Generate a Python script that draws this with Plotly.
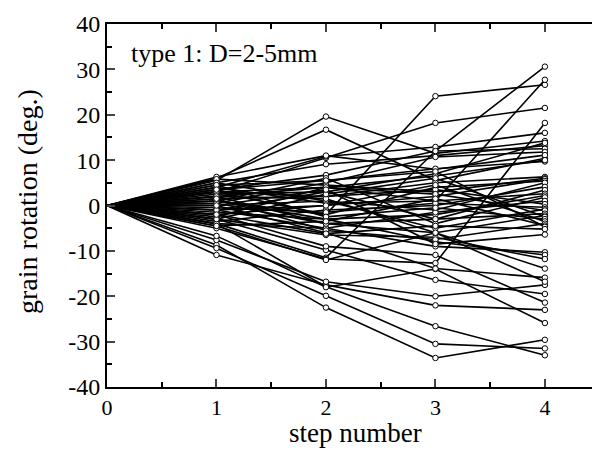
import plotly.graph_objects as go

steps = [0, 1, 2, 3, 4]

# grain rotation (deg.) of each grain at steps 1..4 (step 0 is 0 for all)
step1 = [-4, 1, 3, 5.5, 6, -5, 3, -8.7, -9.4, -4, -10.9, -7.6, -6.7, -3, -2, 0, -1, 1, -3, 2, -4.5,
         4, 5, 3.5, 0.5, 6.3, 4.5, -1, 2,
         1.5, 5.8, -2, 3, 0, -3.5, 2.5, 4, -1.5, 1, -4, 3, -0.5, 5, -2.5, 0.5, 2, -3, 4.5, -1, 1.5, -4.5, 3.5, -2, 0]
step2 = [-11.5, -2, 10.5, 19.6, 16.7, -11.8, 4, -22.5, -19.9, -17.9, -17.5, -16.8, -18, -9.8, -9, -6, -5, -3, -6.5, -4, -12,
         10.8, 9.1, 6.7, 5, 11, 5.5, 3, 4,
         2, 4.5, 0, -2, 1, -1, 3, 0.5, -3, 6, -5, 2, -1.5, 1, 4, -4, 1.5, 2.5, -2.5, 0, -5.5, -3.5, 5.5, -6.2, 3.5]
step3 = [12.0, 24.1, 18.2, 11.5, 5.5, -12.7, 1, -33.6, -30.5, -26.6, -22, -20, -14, -16.4, -10.9, -13.9, -9, -8, -7, -6, -6,
         12.9, 11, 12.0, 10.7, 8, 8.1, 7, 6.5,
         5, 3, 2, 4, -1, 0, -3, 1, -2, -4, -1.5, 3.5, 0.5, -5, 2.5, -3, -6, 6, -0.5, 4.5, -7.5, 1.5, 7.5, -4.5, -8.5]
step4 = [30.6, 26.6, 21.5, 14.2, 10.4, 18.2, 27.7, -29.6, -31.5, -33, -23, -17.5, -25.9, -19.5, -21.4, -15.9, -10.3, -10.9, -11.8, -13.9, -16.8,
         16.0, 13.2, 12.5, 11.8, 11.1, 9.7, 13.8, 10.0,
         6.3, 6.0, 5.8, 5.4, 5.0, 4.1, 3.4, 2.6, 2.2, 1.8, 1.0, 0.3, -0.4, -0.8, -1.1, -1.8, -2.2, -2.5, -3.0, -3.5, -4.0, -4.4, -4.7, -5.2, -6.4]

y_ticks = [-40, -30, -20, -10, 0, 10, 20, 30, 40]
y_tick_text = ["-40", "-30", "-20", "-10", "0", "10", "20", "30", "40"]
x_ticks = [0, 1, 2, 3, 4]

# build line and marker coordinates from the data
lx, ly, mx, my = [], [], [], []
for a, b, c, d in zip(step1, step2, step3, step4):
    vals = [0, a, b, c, d]
    lx += steps + [None]
    ly += vals + [None]
    mx += steps[1:]
    my += vals[1:]

fig = go.Figure()
fig.add_trace(go.Scatter(x=lx, y=ly, mode="lines", line=dict(color="black", width=1.6),
                         hoverinfo="skip", showlegend=False))
fig.add_trace(go.Scatter(x=mx, y=my, mode="markers",
                         marker=dict(symbol="circle", size=5.5, color="white",
                                     line=dict(color="black", width=1)),
                         showlegend=False, cliponaxis=False))

serif = "Liberation Serif, Times New Roman, serif"
fig.update_layout(
    width=592, height=450,
    margin=dict(l=107, r=0, t=24, b=63),
    paper_bgcolor="white", plot_bgcolor="white",
    font=dict(family=serif, color="black"),
    xaxis=dict(range=[0, 4.43], tickvals=x_ticks, ticks="inside", ticklen=8, tickwidth=2,
               showline=True, linecolor="black", linewidth=2, mirror="ticks",
               showgrid=False, zeroline=False, tickfont=dict(size=22, family=serif),
               minor=dict(ticks="inside", dtick=0.5, ticklen=5, tickwidth=2, tickcolor="black")),
    yaxis=dict(range=[-40, 40], tickvals=y_ticks, ticktext=y_tick_text, ticks="inside",
               ticklen=8, tickwidth=2, showline=True, linecolor="black", linewidth=2,
               mirror=False, showgrid=False, zeroline=False, tickfont=dict(size=24, family=serif),
               minor=dict(ticks="inside", dtick=5, ticklen=5, tickwidth=2, tickcolor="black")),
    annotations=[
        dict(text="type 1: D=2-5mm", xref="paper", yref="paper", x=0.045, y=0.918,
             xanchor="left", yanchor="middle", showarrow=False, font=dict(size=26, family=serif)),
        dict(text="step number", xref="paper", yref="paper", x=0.513, y=-0.128,
             xanchor="center", yanchor="middle", showarrow=False, font=dict(size=27, family=serif)),
        dict(text="grain rotation (deg.)", xref="paper", yref="paper", x=-0.164, y=0.511,
             xanchor="center", yanchor="middle", textangle=-90, showarrow=False,
             font=dict(size=28, family=serif)),
    ],
)

fig.write_html("out.html")
